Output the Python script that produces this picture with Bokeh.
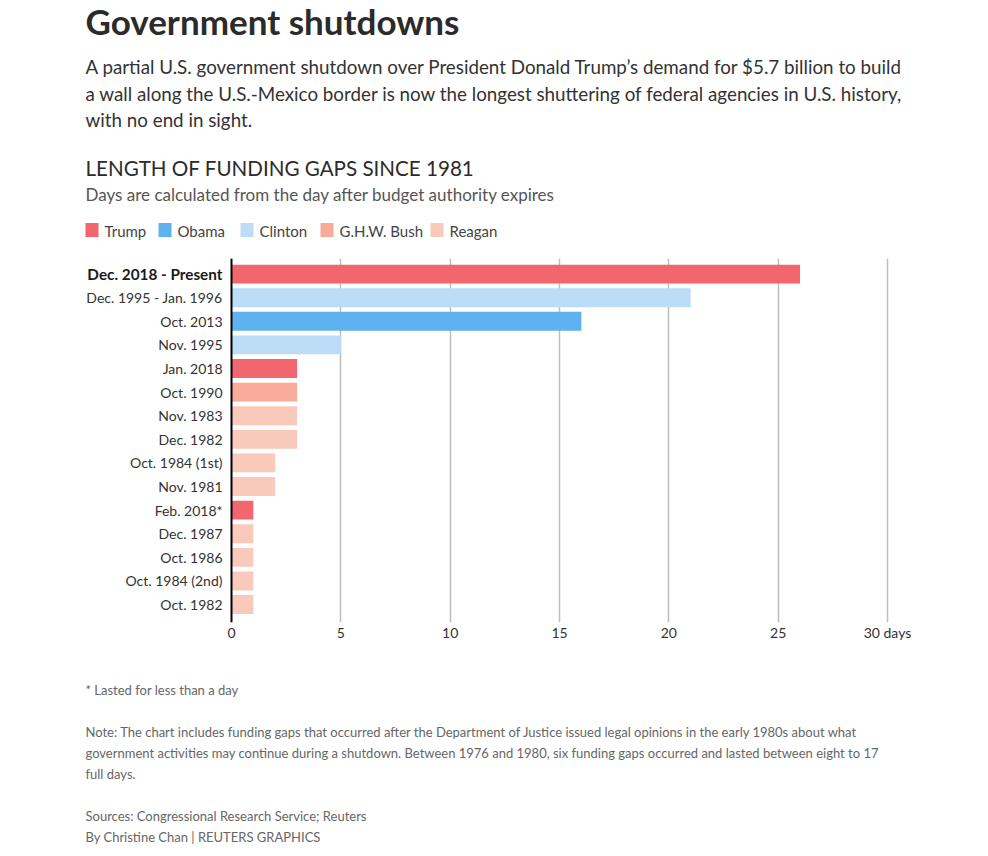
from bokeh.plotting import figure
from bokeh.models import ColumnDataSource, Span, FixedTicker, Range1d
from bokeh.layouts import column
from bokeh.core.properties import value
from bokeh.embed import file_html
from bokeh.resources import INLINE

# ---------------- data ----------------
labels = ["Dec. 2018 - Present", "Dec. 1995 - Jan. 1996", "Oct. 2013", "Nov. 1995",
          "Jan. 2018", "Oct. 1990", "Nov. 1983", "Dec. 1982", "Oct. 1984 (1st)",
          "Nov. 1981", "Feb. 2018*", "Dec. 1987", "Oct. 1986", "Oct. 1984 (2nd)",
          "Oct. 1982"]
days = [26, 21, 16, 5, 3, 3, 3, 3, 2, 2, 1, 1, 1, 1, 1]
president = ["Trump", "Clinton", "Obama", "Clinton", "Trump", "G.H.W. Bush", "Reagan",
             "Reagan", "Reagan", "Reagan", "Trump", "Reagan", "Reagan", "Reagan", "Reagan"]
presidents = ["Trump", "Obama", "Clinton", "G.H.W. Bush", "Reagan"]
pres_colors = ["#f2676f", "#5fb2f0", "#bddcf8", "#f7ab98", "#f9c9bb"]
x_ticks = [0, 5, 10, 15, 20, 25, 30]
x_unit = "days"

title = "Government shutdowns"
intro = ["A partial U.S. government shutdown over President Donald Trump\u2019s demand for $5.7 billion to build",
         "a wall along the U.S.-Mexico border is now the longest shuttering of federal agencies in U.S. history,",
         "with no end in sight."]
chart_title = "LENGTH OF FUNDING GAPS SINCE 1981"
chart_sub = "Days are calculated from the day after budget authority expires"
footnote = "* Lasted for less than a day"
note = ["Note: The chart includes funding gaps that occurred after the Department of Justice issued legal opinions in the early 1980s about what",
        "government activities may continue during a shutdown. Between 1976 and 1980, six funding gaps occurred and lasted between eight to 17",
        "full days."]
sources = ["Sources: Congressional Research Service; Reuters",
           "By Christine Chan | REUTERS GRAPHICS"]

# ---------------- layout ----------------
FONT = "Lato"
W = 970
H_HEAD, H_CHART, H_FOOT = 245, 415, 190
X0_PX, X30_PX = 231, 887          # page x of 0 and 30 days
FRAME_TOP, FRAME_H = 258, 364       # page y of chart frame top, frame height
XMAX = x_ticks[-1]
PPU = (X30_PX - X0_PX) / XMAX


def blank(h):
    f = figure(width=W, height=h, output_backend="svg", toolbar_location=None,
               title=None, x_range=Range1d(0, W), y_range=Range1d(h, 0),
               x_axis_type=None, y_axis_type=None,
               min_border=0, min_border_left=0, min_border_right=0,
               min_border_top=0, min_border_bottom=0)
    f.outline_line_color = None
    f.grid.visible = False
    f.background_fill_color = "white"
    f.border_fill_color = "white"
    return f


def txt(f, x, y, s, size, color="#333333", style="normal"):
    f.text(x=[x], y=[y], text=[s], text_font=value(FONT), text_font_size=value(size),
           text_font_style=style, text_color=color, text_align="left",
           text_baseline="middle")


# ---------- header ----------
head = blank(H_HEAD)
txt(head, 85, 20.5, title, "35px", "#2b2b2b", "bold")
for i, line in enumerate(intro):
    txt(head, 85, 66 + 26.5 * i, line, "18.8px", "#333333")
txt(head, 85, 167, chart_title, "20.6px", "#2b2b2b")
txt(head, 85, 193.5, chart_sub, "17px", "#555555")
leg_x = [85, 158, 240, 320, 430]
head.quad(left=leg_x, right=[lx + 13 for lx in leg_x], top=[222.5] * len(leg_x),
          bottom=[236.5] * len(leg_x), fill_color=pres_colors, line_color=None)
for lx, name in zip(leg_x, presidents):
    txt(head, lx + 19, 230, name, "15px", "#444444")

# ---------- chart ----------
color_map = dict(zip(presidents, pres_colors))
ypos = list(range(len(labels)))
src = ColumnDataSource(dict(y=ypos, days=days, label=labels,
                            color=[color_map[p] for p in president]))

top_border = FRAME_TOP - H_HEAD
bottom_border = H_CHART - top_border - FRAME_H
p = figure(width=W, height=H_CHART, output_backend="svg", toolbar_location=None,
           title=None, min_border_left=0, min_border_right=0,
           min_border_top=top_border, min_border_bottom=bottom_border,
           x_range=Range1d(-X0_PX / PPU, (W - X0_PX) / PPU),
           y_range=Range1d(len(labels) - 1 + 0.76, -0.66))
p.outline_line_color = None
p.background_fill_color = "white"
p.border_fill_color = "white"

p.hbar(y="y", left=0, right="days", height=0.8, fill_color="color",
       line_color=None, source=src)

p.yaxis.visible = False
p.ygrid.visible = False
p.xaxis.ticker = FixedTicker(ticks=x_ticks)
p.xgrid.ticker = FixedTicker(ticks=x_ticks[1:])
p.xgrid.grid_line_color = "#bdbdbd"
p.xgrid.grid_line_width = 1.5
p.xaxis.axis_line_color = None
p.xaxis.major_tick_line_color = None
p.xaxis.major_tick_out = 0
p.xaxis.major_tick_in = 0
p.xaxis.minor_tick_line_color = None
p.xaxis.minor_tick_out = 0
p.xaxis.major_label_standoff = 1
p.xaxis.major_label_overrides = {XMAX: f"{XMAX} {x_unit}"}
p.xaxis.major_label_text_font = FONT
p.xaxis.major_label_text_font_size = "14px"
p.xaxis.major_label_text_color = "#333333"

p.add_layout(Span(location=0, dimension="height", line_color="black", line_width=2))

p.text(x=[0] * (len(labels) - 1), y=ypos[1:], text=labels[1:], x_offset=-9,
       text_align="right", text_baseline="middle", text_font=value(FONT),
       text_font_size=value("14px"), text_color="#333333")
p.text(x=[0], y=ypos[:1], text=labels[:1], x_offset=-9,
       text_align="right", text_baseline="middle", text_font=value(FONT),
       text_font_size=value("15.3px"), text_font_style="bold", text_color="#1a1a1a")

# ---------- footer ----------
foot = blank(H_FOOT)
OFF = H_HEAD + H_CHART
txt(foot, 85, 689 - OFF, footnote, "13px", "#666666")
for i, line in enumerate(note):
    txt(foot, 85, 731 - OFF + 21 * i, line, "13px", "#666666")
for i, line in enumerate(sources):
    txt(foot, 85, 815 - OFF + 21 * i, line, "13px", "#666666")

layout = column(head, p, foot, spacing=0)
open("out.html", "w").write(file_html(layout, INLINE))
